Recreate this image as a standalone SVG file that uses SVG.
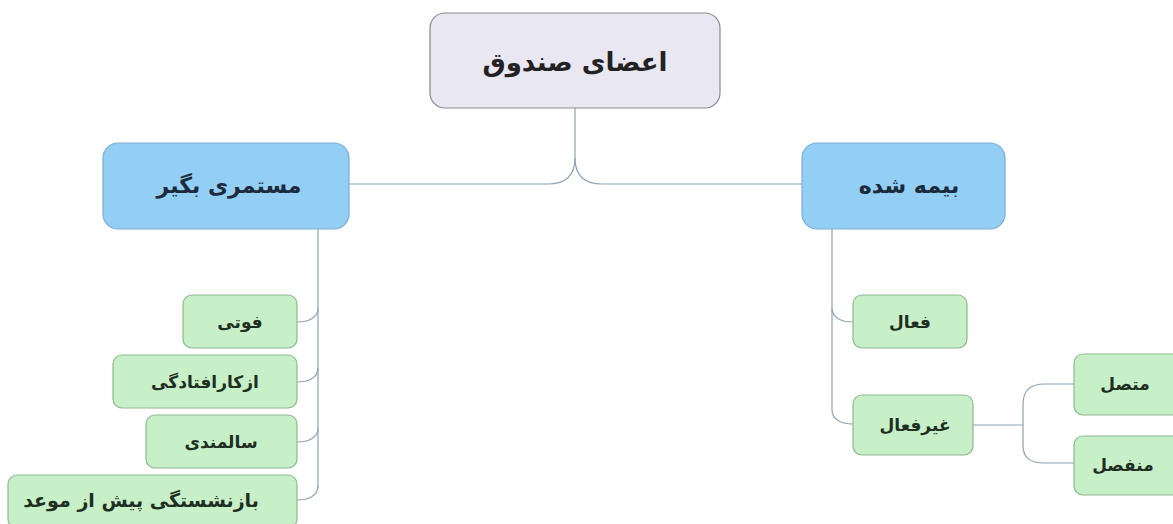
<svg xmlns="http://www.w3.org/2000/svg" width="1173" height="524" viewBox="0 0 1173 524">
<style>
.root{fill:#e9e7f1;stroke:#8a8a8a;stroke-width:1.2}
.blue{fill:#93cef5;stroke:#7aaed6;stroke-width:1.2}
.green{fill:#c8f0c8;stroke:#8fb88f;stroke-width:1.2}
.c{fill:none;stroke:#8ea2b4;stroke-width:1.2}
text{font-family:"DejaVu Sans",sans-serif;font-weight:bold;text-anchor:middle;direction:rtl}
.t0{font-size:26px;fill:#222}
.t1{font-size:22px;fill:#1b2b3b}
.t2{font-size:17px;fill:#1e2e22}
</style>
<rect width="1173" height="524" fill="#fff"/>
<g id="connectors">
<path class="c" d="M575,108 V158 C575,176 566,184 548,184 H349"/>
<path class="c" d="M575,158 C575,176 584,184 602,184 H802"/>
<path class="c" d="M318,229 V488"/>
<path class="c" d="M318,308 C318,318 308,322 297,322"/>
<path class="c" d="M318,368 C318,378 308,382 297,382"/>
<path class="c" d="M318,428 C318,438 308,442 297,442"/>
<path class="c" d="M318,486 C318,496 308,500 297,500"/>
<path class="c" d="M832,229 V410"/>
<path class="c" d="M832,308 C832,318 842,322 853,322"/>
<path class="c" d="M832,410 C832,420 842,424 853,424"/>
<path class="c" d="M973,425 H1023"/>
<path class="c" d="M1023,425 V405 C1023,390 1030,384 1045,384 H1074"/>
<path class="c" d="M1023,425 V445 C1023,458 1030,463 1045,463 H1074"/>
</g>
<g id="root"><rect class="root" x="430" y="13" width="290" height="95" rx="15"/><text class="t0" x="575" y="71">اعضای صندوق</text></g>
<g id="mostamari"><rect class="blue" x="103" y="143" width="246" height="86" rx="15"/><text class="t1" x="229" y="193">مستمری بگیر</text></g>
<g id="bimeh"><rect class="blue" x="802" y="143" width="203" height="86" rx="15"/><text class="t1" x="909" y="193">بیمه شده</text></g>
<g id="foti"><rect class="green" x="183" y="295" width="114" height="53" rx="9"/><text class="t2" x="240" y="328">فوتی</text></g>
<g id="azkar"><rect class="green" x="113" y="355" width="184" height="53" rx="9"/><text class="t2" x="205" y="388">ازکارافتادگی</text></g>
<g id="salmandi"><rect class="green" x="146" y="415" width="151" height="53" rx="9"/><text class="t2" x="221" y="448">سالمندی</text></g>
<g id="bazneshastegi"><rect class="green" x="8" y="475" width="289" height="53" rx="9"/><text class="t2" x="141" y="507" style="font-size:19px">بازنشستگی پیش از موعد</text></g>
<g id="faal"><rect class="green" x="853" y="295" width="114" height="53" rx="9"/><text class="t2" x="910" y="328">فعال</text></g>
<g id="gheirfaal"><rect class="green" x="853" y="395" width="120" height="60" rx="9"/><text class="t2" x="915" y="431">غیرفعال</text></g>
<g id="mottasel"><rect class="green" x="1074" y="354" width="110" height="61" rx="9"/><text class="t2" x="1125" y="390">متصل</text></g>
<g id="monfasel"><rect class="green" x="1074" y="436" width="110" height="59" rx="9"/><text class="t2" x="1123" y="471">منفصل</text></g>
</svg>
